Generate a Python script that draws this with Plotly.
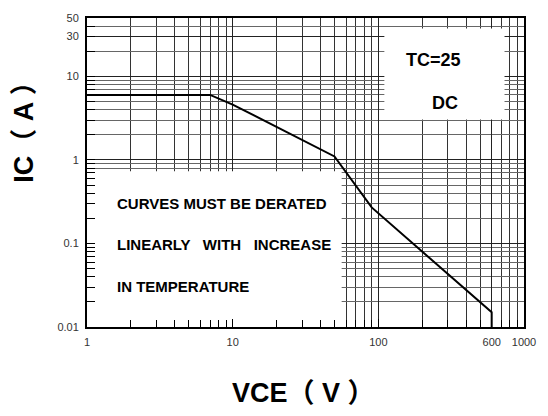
import plotly.graph_objects as go

# ---- data ----
vce = [1, 7, 10, 50, 90, 600, 600]
ic = [6, 6, 4.6, 1.1, 0.27, 0.015, 0.01]

x_tickvals = [1, 10, 100, 600, 1000]
x_ticktext = ["1", "10", "100", "600", "1000"]
y_tickvals = [0.01, 0.1, 1, 10, 30, 50]
y_ticktext = ["0.01", "0.1", "1", "10", "30", "50"]

note_lines = ["CURVES MUST BE DERATED", "LINEARLY   WITH   INCREASE", "IN TEMPERATURE"]
cond_lines = ["TC=25", "DC"]

# ---- layout constants ----
W, H = 548, 416
L, R, T, B = 87, 21, 16, 89
PW, PH = W - L - R, H - T - B

def px_x(px):
    return (px - L) / PW

def px_y(py):
    return (H - B - py) / PH

x_minor = [m * 10 ** e for e in range(0, 3) for m in range(2, 10)]
y_minor = [m * 10 ** e for e in range(-2, 2) for m in range(2, 10)
           if m * 10 ** e <= 50 and m * 10 ** e not in (30, 50)]

bold = "Liberation Sans, Arial, Noto Sans CJK SC, sans-serif"
tickfont = dict(family="Liberation Sans, Arial, sans-serif", size=11, color="#333")

fig = go.Figure()
fig.add_trace(go.Scatter(x=vce, y=ic, mode="lines",
                         line=dict(color="black", width=2), showlegend=False,
                         hoverinfo="skip"))

axis_common = dict(
    showline=True, linecolor="black", linewidth=2, mirror=True,
    ticks="inside", ticklen=8, tickcolor="black", tickwidth=1,
    showgrid=True, gridcolor="#222", gridwidth=1, zeroline=False,
    tickfont=tickfont, ticklabelstandoff=4,
)

fig.update_xaxes(type="log", range=[0, 3], tickvals=x_tickvals, ticktext=x_ticktext,
                 minor=dict(tickvals=x_minor, ticks="inside", ticklen=7,
                            tickcolor="black", showgrid=True, gridcolor="#333",
                            gridwidth=1),
                 **axis_common)
fig.update_yaxes(type="log", range=[-2, 1.69897], tickvals=y_tickvals, ticktext=y_ticktext,
                 minor=dict(tickvals=y_minor, ticks="inside", ticklen=8,
                            tickcolor="black", showgrid=True, gridcolor="#666",
                            gridwidth=1),
                 **axis_common)

# white boxes covering the grid
fig.add_shape(type="rect", xref="x", yref="y", x0=1, x1=56, y0=0.01, y1=0.73,
              fillcolor="white", line=dict(width=0), layer="between")
fig.add_shape(type="rect", xref="x", yref="y", x0=110, x1=735, y0=3.05, y1=37.4,
              fillcolor="white", line=dict(width=0), layer="between")

annotations = []
for txt, py in zip(note_lines, [203, 244, 286]):
    annotations.append(dict(text=txt, x=px_x(115), y=px_y(py), xref="paper", yref="paper",
                            xanchor="left", yanchor="middle", showarrow=False,
                            font=dict(family=bold, size=15, color="black", weight="bold")))
for txt, (pxx, py) in zip(cond_lines, [(436, 58), (447, 102)]):
    annotations.append(dict(text=txt, x=px_x(pxx), y=px_y(py), xref="paper", yref="paper",
                            xanchor="center", yanchor="middle", showarrow=False,
                            font=dict(family=bold, size=18, color="black", weight="bold")))
annotations.append(dict(text="VCE（ V ）", x=px_x(231), y=px_y(393), xref="paper", yref="paper",
                        xanchor="left", yanchor="middle", showarrow=False,
                        font=dict(family=bold, size=27, color="black", weight="bold")))
annotations.append(dict(text="IC（ A ）", x=px_x(24), y=px_y(184), xref="paper", yref="paper",
                        xanchor="center", yanchor="bottom", showarrow=False, textangle=-90,
                        font=dict(family=bold, size=27, color="black", weight="bold")))

fig.update_layout(width=W, height=H, margin=dict(l=L, r=R, t=T, b=B),
                  plot_bgcolor="white", paper_bgcolor="white",
                  annotations=annotations, showlegend=False)

fig.write_html("out.html", config={"displayModeBar": False},
               post_script="document.body.style.margin='0';document.body.style.overflow='hidden';")
